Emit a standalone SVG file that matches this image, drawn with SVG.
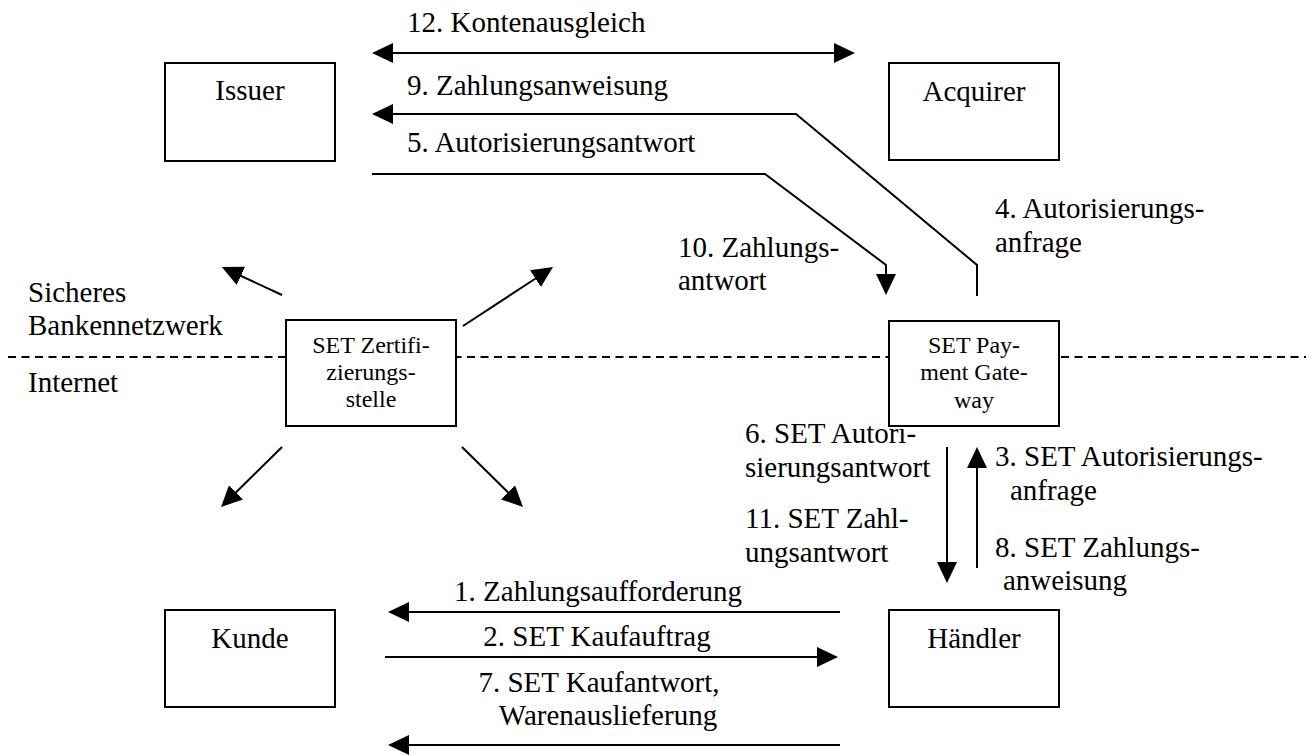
<svg xmlns="http://www.w3.org/2000/svg" width="1306" height="755" viewBox="0 0 1306 755">
  <style>
    text { font-family: "Liberation Serif", "Times New Roman", serif; fill: #000; }
    .lbl { font-size: 29px; }
    .box-t { font-size: 29px; text-anchor: middle; }
    .small { font-size: 24px; text-anchor: middle; }
    .box { fill: #fff; stroke: #000; stroke-width: 2; }
    .conn { fill: none; stroke: #000; stroke-width: 2; }
    .divider { stroke: #000; stroke-width: 2; stroke-dasharray: 8 5.5; }
  </style>
  <defs>
    <marker id="head" markerUnits="userSpaceOnUse" markerWidth="21" markerHeight="20" viewBox="0 0 21 20" refX="1" refY="10" orient="auto-start-reverse">
      <path d="M0,0 L21,10 L0,20 z" fill="#000"/>
    </marker>
  </defs>
  <rect width="1306" height="755" fill="#fff"/>

  <!-- boundary between bank network and internet -->
  <g id="divider">
    <line class="divider" x1="8" y1="357" x2="1306" y2="357"/>
    <text class="lbl" x="28" y="302">Sicheres</text>
    <text class="lbl" x="28" y="335">Bankennetzwerk</text>
    <text class="lbl" x="28" y="392">Internet</text>
  </g>

  <g id="connectors">
    <!-- 12: Issuer <-> Acquirer -->
    <path class="conn" d="M392,53 H835" marker-start="url(#head)" marker-end="url(#head)"/>
    <!-- 9: Payment Gateway -> Issuer -->
    <path class="conn" d="M977,296 V265 L796,114 H392" marker-end="url(#head)"/>
    <!-- 5: Issuer -> Payment Gateway -->
    <path class="conn" d="M372,174 H765 L886,265 V275" marker-end="url(#head)"/>
    <!-- certificate authority -->
    <path class="conn" d="M282,295 L240,275.5" marker-end="url(#head)"/>
    <path class="conn" d="M463,326 L536.3,278" marker-end="url(#head)"/>
    <path class="conn" d="M282,447 L235.3,493" marker-end="url(#head)"/>
    <path class="conn" d="M462,447 L508.7,493" marker-end="url(#head)"/>
    <!-- gateway <-> merchant -->
    <path class="conn" d="M947,447 V563" marker-end="url(#head)"/>
    <path class="conn" d="M977,568 V467" marker-end="url(#head)"/>
    <!-- merchant <-> customer -->
    <path class="conn" d="M840,612 H408" marker-end="url(#head)"/>
    <path class="conn" d="M385,657 H818" marker-end="url(#head)"/>
    <path class="conn" d="M840,745 H408" marker-end="url(#head)"/>

    <text class="lbl" x="407" y="32">12. Kontenausgleich</text>
    <text class="lbl" x="407" y="95">9. Zahlungsanweisung</text>
    <text class="lbl" x="407" y="152">5. Autorisierungsantwort</text>
    <text class="lbl" x="995" y="218">4. Autorisierungs-</text>
    <text class="lbl" x="995" y="252">anfrage</text>
    <text class="lbl" x="678" y="257">10. Zahlungs-</text>
    <text class="lbl" x="678" y="290">antwort</text>
    <text class="lbl" x="745" y="443">6. SET Autori-</text>
    <text class="lbl" x="745" y="477">sierungsantwort</text>
    <text class="lbl" x="745" y="528">11. SET Zahl-</text>
    <text class="lbl" x="745" y="562">ungsantwort</text>
    <text class="lbl" x="995" y="466">3. SET Autorisierungs-</text>
    <text class="lbl" x="1010" y="500">anfrage</text>
    <text class="lbl" x="995" y="557">8. SET Zahlungs-</text>
    <text class="lbl" x="1003" y="590">anweisung</text>
    <text class="box-t" x="598" y="601">1. Zahlungsaufforderung</text>
    <text class="box-t" x="597" y="646">2. SET Kaufauftrag</text>
    <text class="box-t" x="599" y="692">7. SET Kaufantwort,</text>
    <text class="box-t" x="608" y="725">Warenauslieferung</text>
  </g>

  <g id="issuer">
    <rect class="box" x="165" y="63" width="170" height="98"/>
    <text class="box-t" x="250" y="100">Issuer</text>
  </g>
  <g id="acquirer">
    <rect class="box" x="889" y="63" width="170" height="97"/>
    <text class="box-t" x="974" y="101">Acquirer</text>
  </g>
  <g id="zertifizierungsstelle">
    <rect class="box" x="286" y="320" width="170" height="106"/>
    <text class="small" x="371" y="353">SET Zertifi-</text>
    <text class="small" x="371" y="380">zierungs-</text>
    <text class="small" x="371" y="407">stelle</text>
  </g>
  <g id="payment-gateway">
    <rect class="box" x="889" y="321" width="170" height="105"/>
    <text class="small" x="974" y="353">SET Pay-</text>
    <text class="small" x="974" y="380">ment Gate-</text>
    <text class="small" x="974" y="408">way</text>
  </g>
  <g id="kunde">
    <rect class="box" x="165" y="610" width="170" height="97"/>
    <text class="box-t" x="250" y="648">Kunde</text>
  </g>
  <g id="haendler">
    <rect class="box" x="889" y="610" width="170" height="97"/>
    <text class="box-t" x="974" y="648">Händler</text>
  </g>
</svg>
